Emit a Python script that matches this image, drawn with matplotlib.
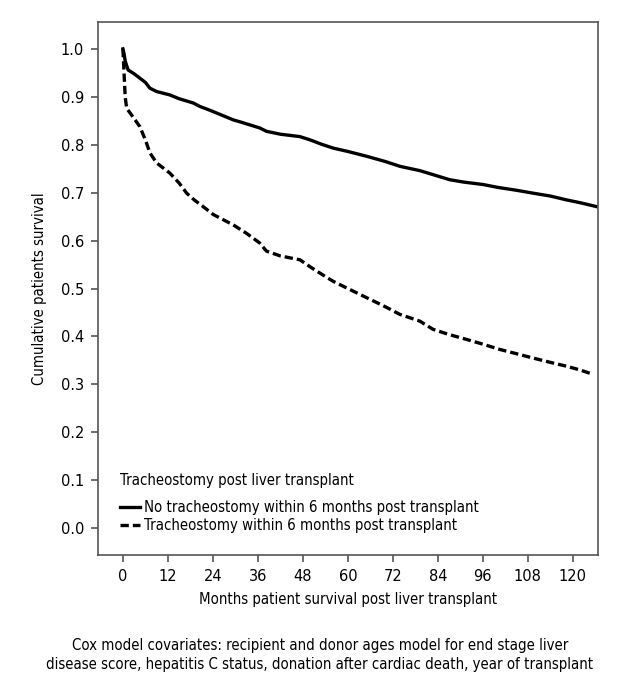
import matplotlib
matplotlib.use('Agg')
import matplotlib.pyplot as plt

plt.rcParams['font.family'] = ['DejaVu Sans']
plt.rcParams['font.stretch'] = 'condensed'

# survival curves (months, cumulative survival)
no_trach_months = [0, 0.3, 0.6, 1.0, 1.4, 3, 4.5, 6, 7.2, 9, 12.5, 15, 18.8, 20.5,
                   23.2, 26, 29.4, 32, 36.5, 38.3, 42, 47.2, 50, 53, 56.1, 60, 65,
                   70, 73.9, 79.2, 83, 87.2, 91, 96.1, 100, 105, 109.4, 114, 118.3,
                   122, 126.3]
no_trach_surv = [1.0, 0.99, 0.975, 0.965, 0.956, 0.948, 0.939, 0.93, 0.918, 0.911,
                 0.904, 0.896, 0.887, 0.88, 0.872, 0.863, 0.852, 0.846, 0.835, 0.828,
                 0.822, 0.817, 0.81, 0.801, 0.793, 0.786, 0.776, 0.765, 0.755, 0.746,
                 0.737, 0.727, 0.722, 0.717, 0.711, 0.705, 0.699, 0.693, 0.685, 0.679,
                 0.671]

trach_months = [0, 0.3, 0.6, 1.0, 2.5, 4.5, 6, 7.2, 9, 12.5, 15, 17, 19, 21.4, 24,
                25.9, 29.4, 33, 36.5, 38.3, 42, 47.2, 50, 53, 56.1, 60, 65, 70, 73.9,
                79.2, 82.7, 87, 91.6, 96, 100.5, 105, 109.4, 114, 118.3, 122, 125.4]
trach_surv = [1.0, 0.95, 0.9, 0.876, 0.86, 0.838, 0.81, 0.783, 0.762, 0.741, 0.72,
              0.699, 0.685, 0.671, 0.655, 0.647, 0.633, 0.615, 0.595, 0.578, 0.568,
              0.56, 0.545, 0.53, 0.515, 0.5, 0.481, 0.462, 0.446, 0.432, 0.415, 0.404,
              0.394, 0.384, 0.373, 0.364, 0.355, 0.346, 0.338, 0.33, 0.321]

x_ticks = list(range(0, 121, 12))
y_ticks = [i / 10 for i in range(11)]

labels = ['No tracheostomy within 6 months post transplant',
          'Tracheostomy within 6 months post transplant']

fs = 10.7

fig = plt.figure(figsize=(6.4, 7), dpi=100)
ax = fig.add_axes([0.153, 0.2071, 0.781, 0.7614])

ax.plot(no_trach_months, no_trach_surv, color='black', lw=2.4,
        solid_joinstyle='miter', label=labels[0])
ax.plot(trach_months, trach_surv, color='black', lw=2.4,
        linestyle=(0, (2.5, 1.2)), label=labels[1])

ax.set_xlim(-6.67, 126.67)
ax.set_ylim(-0.056, 1.056)
ax.set_xticks(x_ticks)
ax.set_yticks(y_ticks)
ax.set_yticklabels([f'{v:.1f}' for v in y_ticks])

for s in ax.spines.values():
    s.set_color('#555555')
    s.set_linewidth(1.2)
ax.tick_params(direction='out', length=5, width=1.2, color='#555555',
               labelsize=fs + 1, pad=5)

ax.set_xlabel('Months patient survival post liver transplant', fontsize=fs, labelpad=6)
ax.set_ylabel('Cumulative patients survival', fontsize=fs, labelpad=10)

leg = ax.legend(loc='upper left', bbox_to_anchor=(0.045, 0.154), borderaxespad=0,
                borderpad=0, frameon=False, fontsize=fs, title_fontsize=fs,
                title='Tracheostomy post liver transplant', alignment='left',
                handlelength=1.3, handletextpad=0.3, labelspacing=0.2)
leg._legend_box.sep = 9

fig.text(0.5, 1 - 655 / 700,
         'Cox model covariates: recipient and donor ages model for end stage liver\n'
         'disease score, hepatitis C status, donation after cardiac death, year of transplant',
         ha='center', va='center', fontsize=fs, linespacing=1.35)

fig.savefig('out.png', dpi=100)
